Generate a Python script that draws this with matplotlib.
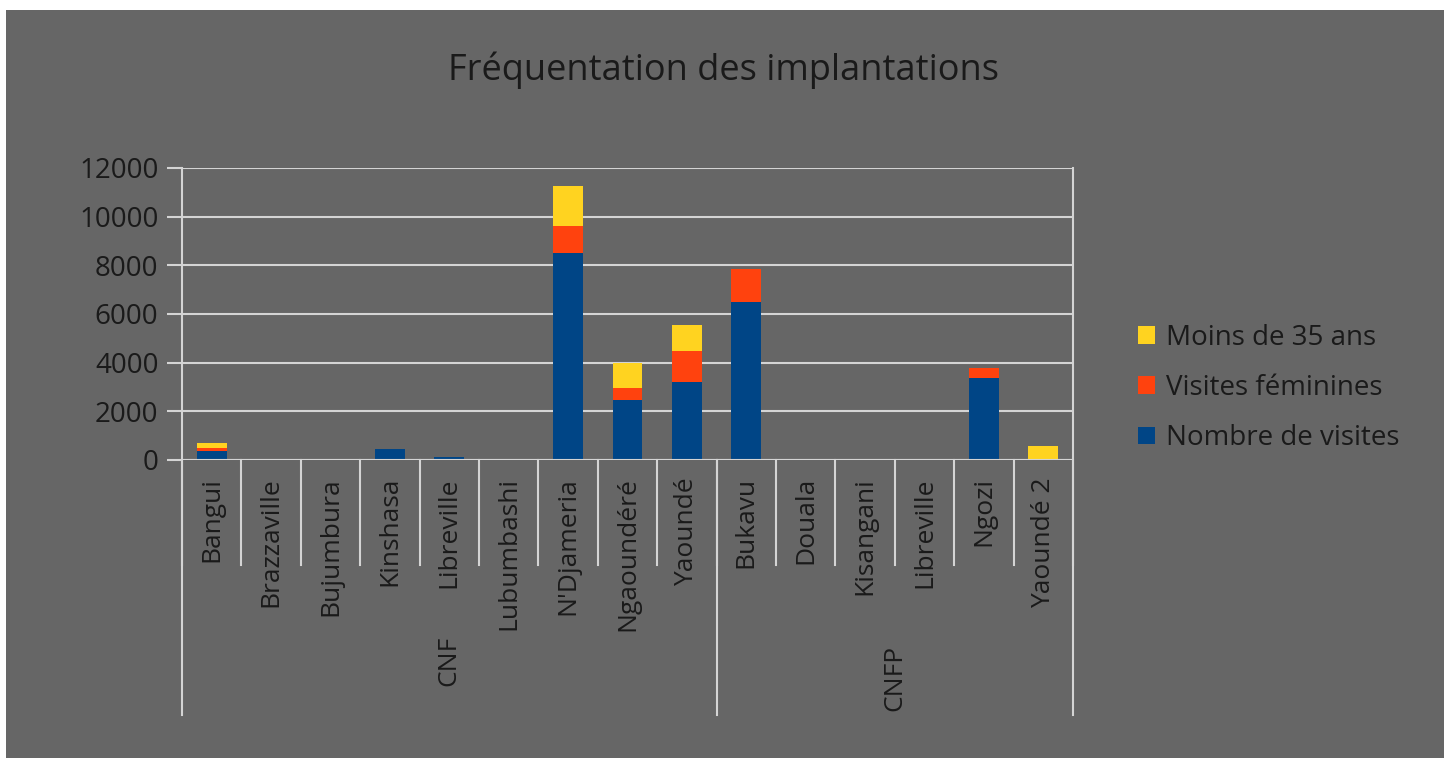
import numpy as np
import matplotlib
matplotlib.use('Agg')
import matplotlib.pyplot as plt
from matplotlib.patches import Rectangle
import matplotlib.transforms as mtransforms

plt.rcParams['font.family'] = ['Open Sans', 'DejaVu Sans']

# Data
sites = ['Bangui', 'Brazzaville', 'Bujumbura', 'Kinshasa', 'Libreville', 'Lubumbashi',
         "N'Djameria", 'Ngaoundéré', 'Yaoundé',
         'Bukavu', 'Douala', 'Kisangani', 'Libreville', 'Ngozi', 'Yaoundé 2']
groups = ['CNF', 'CNFP']
group_sizes = [9, 6]
visites = [370, 0, 0, 440, 130, 0, 8500, 2450, 3200, 6500, 0, 0, 0, 3350, 0]
feminines = [120, 0, 0, 0, 0, 0, 1130, 500, 1300, 1350, 0, 0, 0, 420, 0]
moins35 = [220, 0, 0, 0, 0, 0, 1650, 1030, 1050, 0, 0, 0, 0, 0, 570]

bg = '#666666'
grid_col = '#d4d4d4'
txt = '#1a1a1a'
c_blue, c_orange, c_yellow = '#004586', '#ff420e', '#ffd320'

fig = plt.figure(figsize=(14.5, 7.58), dpi=100, facecolor='white')
fig.patches.append(Rectangle((6 / 1450, 0), 1438 / 1450, 748 / 758,
                             transform=fig.transFigure, facecolor=bg, edgecolor='none', zorder=-10))

ax = fig.add_axes([182 / 1450, (758 - 460) / 758, 891 / 1450, 292 / 758])
ax.set_facecolor(bg)

x = np.arange(len(sites))
v = np.array(visites)
f = np.array(feminines)
m = np.array(moins35)
ax.bar(x, v, width=0.5, color=c_blue, label='Nombre de visites', zorder=3)
ax.bar(x, f, width=0.5, bottom=v, color=c_orange, label='Visites féminines', zorder=3)
ax.bar(x, m, width=0.5, bottom=v + f, color=c_yellow, label='Moins de 35 ans', zorder=3)

ax.set_xlim(-0.5, len(sites) - 0.5)
ax.set_ylim(0, 12000)
ax.set_yticks(range(0, 12001, 2000))
ax.yaxis.grid(True, color=grid_col, linewidth=1.5, zorder=1)
for s in ['top', 'bottom', 'left', 'right']:
    ax.spines[s].set_visible(False)
ax.tick_params(axis='y', length=11, width=1.5, color=grid_col, labelsize=20, labelcolor=txt, pad=6)
ax.tick_params(axis='x', length=0, labelbottom=False)
ax.axhline(0, color=grid_col, linewidth=1.5, zorder=4)

trans = mtransforms.blended_transform_factory(ax.transData, ax.transAxes)
px = 1 / 292
# category separators
for k in range(len(sites) + 1):
    ax.plot([k - 0.5, k - 0.5], [0, -105 * px], transform=trans, color=grid_col,
            linewidth=1.5, clip_on=False, zorder=2)
# group separators; outer ones run up the full plot height
edges = np.concatenate([[0], np.cumsum(group_sizes)])
for e in edges:
    top = 1 if e in (edges[0], edges[-1]) else 0
    ax.plot([e - 0.5, e - 0.5], [top, -255 * px], transform=trans, color=grid_col,
            linewidth=1.5, clip_on=False, zorder=2)

for i, name in enumerate(sites):
    ax.text(i, -17 * px, name, transform=trans, rotation=90, ha='center', va='top',
            fontsize=19, color=txt)

group_y = [-201 * px, -218 * px]
for g, (name, lo, hi) in enumerate(zip(groups, edges[:-1], edges[1:])):
    ax.text((lo + hi - 1) / 2, group_y[g], name, transform=trans, rotation=90,
            ha='center', va='center', fontsize=19, color=txt)

fig.text(724 / 1450, (758 - 70) / 758, 'Fréquentation des implantations', ha='center', va='center',
         fontsize=26, color=txt)

h, l = ax.get_legend_handles_labels()
fig.legend(h[::-1], l[::-1], loc='center left', bbox_to_anchor=(1138 / 1450, (758 - 388) / 758),
           frameon=False, fontsize=20, labelcolor=txt, handlelength=0.6, handleheight=0.6,
           handletextpad=0.4, labelspacing=0.8, borderpad=0, borderaxespad=0)

fig.savefig('out.png', dpi=100, facecolor='white')
